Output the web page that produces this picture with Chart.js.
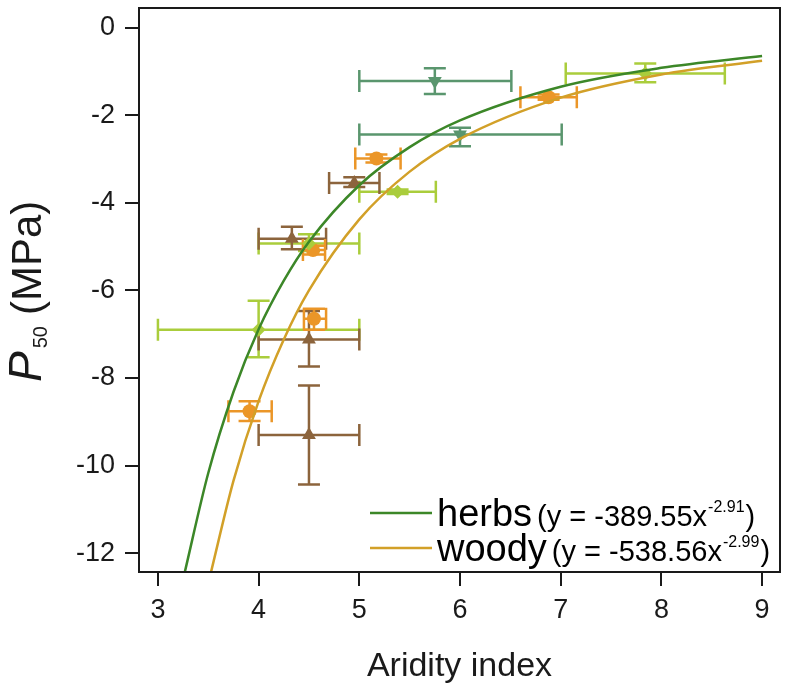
<!DOCTYPE html>
<html>
<head>
<meta charset="utf-8">
<script src="https://cdn.jsdelivr.net/npm/chart.js@4"></script>
<style>
  html, body { margin: 0; padding: 0; background: #fff; }
  #wrap { width: 788px; height: 697px; }
</style>
</head>
<body>
<div id="wrap"><canvas id="p50Chart" width="788" height="697"></canvas></div>
<script>
// 軸刻度
const xTicks = [3, 4, 5, 6, 7, 8, 9];
const yTicks = [0, -2, -4, -6, -8, -10, -12];

// 擬合曲線
const herbsX = [3.26, 3.5, 3.75, 4, 4.25, 4.5, 5, 5.5, 6, 7, 8, 9];
const herbsY = [-12.50, -10.17, -8.32, -6.89, -5.78, -4.89, -3.60, -2.73, -2.12, -1.35, -0.92, -0.65];
const woodyX = [3.52, 3.75, 4, 4.25, 4.5, 5, 5.5, 6, 7, 8, 9];
const woodyY = [-12.50, -10.35, -8.53, -7.12, -6.00, -4.38, -3.29, -2.54, -1.60, -1.07, -0.76];

// 灰綠 倒三角
const greyX = [5.75, 6.0];
const greyY = [-1.22, -2.44];
const greyXLo = [5.0, 5.0];
const greyXHi = [6.51, 7.01];
const greyYLo = [-1.52, -2.71];
const greyYHi = [-0.93, -2.29];

// 橘色 圓點
const orangeX = [5.17, 6.88, 4.54, 4.55, 3.91];
const orangeY = [-2.99, -1.59, -5.08, -6.65, -8.76];
const orangeXLo = [4.96, 6.60, 4.44, 4.45, 3.70];
const orangeXHi = [5.41, 7.16, 4.66, 4.67, 4.13];
const orangeYLo = [-3.08, -1.65, -5.18, -6.90, -8.98];
const orangeYHi = [-2.90, -1.53, -4.98, -6.42, -8.53];

// 棕色 正三角
const brownX = [4.95, 4.33, 4.5, 4.5];
const brownY = [-3.55, -4.82, -7.12, -9.30];
const brownXLo = [4.70, 4.0, 4.0, 4.0];
const brownXHi = [5.20, 4.67, 5.0, 5.0];
const brownYLo = [-3.64, -5.06, -7.74, -10.43];
const brownYHi = [-3.42, -4.55, -6.47, -8.17];

// 淺綠 菱形
const limeX = [5.38, 7.84, 4.5, 4.0];
const limeY = [-3.75, -1.05, -4.93, -6.90];
const limeXLo = [5.0, 7.05, 4.0, 3.0];
const limeXHi = [5.76, 8.63, 5.0, 5.0];
const limeYLo = [-3.80, -1.25, -5.10, -7.53];
const limeYHi = [-3.70, -0.82, -4.72, -6.24];

const cGrey = '#5a966e', cOrange = '#eb9628', cBrown = '#8c643c', cLime = '#aacd3c';
const cHerbs = '#3c8728', cWoody = '#d2a028';
const ink = '#1a1a1a';
const font = "'Liberation Sans', Arial, sans-serif";

const toXY = (xs, ys) => xs.map((v, i) => ({ x: v, y: ys[i] }));

const groups = [
  { x: greyX, y: greyY, xLo: greyXLo, xHi: greyXHi, yLo: greyYLo, yHi: greyYHi, color: cGrey },
  { x: limeX, y: limeY, xLo: limeXLo, xHi: limeXHi, yLo: limeYLo, yHi: limeYHi, color: cLime },
  { x: brownX, y: brownY, xLo: brownXLo, xHi: brownXHi, yLo: brownYLo, yHi: brownYHi, color: cBrown },
  { x: orangeX, y: orangeY, xLo: orangeXLo, xHi: orangeXHi, yLo: orangeYLo, yHi: orangeYHi, color: cOrange }
];

// 誤差線
const errorBars = {
  id: 'errorBars',
  beforeDatasetsDraw(chart) {
    const { ctx, scales: { x, y } } = chart;
    const cap = 11;
    ctx.save();
    ctx.lineWidth = 2.5;
    groups.forEach(g => {
      ctx.strokeStyle = g.color;
      for (let i = 0; i < g.x.length; i++) {
        const px = x.getPixelForValue(g.x[i]), py = y.getPixelForValue(g.y[i]);
        const x0 = x.getPixelForValue(g.xLo[i]), x1 = x.getPixelForValue(g.xHi[i]);
        const y0 = y.getPixelForValue(g.yLo[i]), y1 = y.getPixelForValue(g.yHi[i]);
        ctx.beginPath();
        ctx.moveTo(x0, py); ctx.lineTo(x1, py);
        ctx.moveTo(x0, py - cap); ctx.lineTo(x0, py + cap);
        ctx.moveTo(x1, py - cap); ctx.lineTo(x1, py + cap);
        ctx.moveTo(px, y0); ctx.lineTo(px, y1);
        ctx.moveTo(px - cap, y0); ctx.lineTo(px + cap, y0);
        ctx.moveTo(px - cap, y1); ctx.lineTo(px + cap, y1);
        ctx.stroke();
      }
    });
    ctx.restore();
  }
};

// 外框、軸標題、圖例
const decor = {
  id: 'decor',
  afterDraw(chart) {
    const { ctx, chartArea: a } = chart;
    ctx.save();
    ctx.strokeStyle = ink;
    ctx.lineWidth = 2;
    ctx.strokeRect(a.left, a.top, a.right - a.left, a.bottom - a.top);

    ctx.fillStyle = ink;
    ctx.textAlign = 'center';
    ctx.textBaseline = 'alphabetic';
    ctx.font = `34px ${font}`;
    ctx.fillText('Aridity index', (a.left + a.right) / 2, 676);

    // y 標題 P50 (MPa)
    ctx.save();
    ctx.translate(41, 382);
    ctx.rotate(-Math.PI / 2);
    ctx.textAlign = 'left';
    ctx.font = `italic 46px ${font}`;
    ctx.fillText('P', 0, 0);
    let w = ctx.measureText('P').width + 3;
    ctx.font = `20px ${font}`;
    ctx.fillText('50', w, 6);
    w += ctx.measureText('50').width + 11;
    ctx.font = `42px ${font}`;
    ctx.fillText('(MPa)', w, 0);
    ctx.restore();

    // 圖例
    const items = [
      { name: 'herbs', eq: '(y = -389.55x', sup: '-2.91', color: cHerbs, y: 513 },
      { name: 'woody', eq: '(y = -538.56x', sup: '-2.99', color: cWoody, y: 548 }
    ];
    items.forEach(it => {
      ctx.strokeStyle = it.color;
      ctx.lineWidth = 2.5;
      ctx.beginPath();
      ctx.moveTo(370, it.y); ctx.lineTo(432, it.y);
      ctx.stroke();
      ctx.fillStyle = '#000';
      ctx.textAlign = 'left';
      let tx = 437;
      const base = it.y + 13;
      ctx.font = `38px ${font}`;
      ctx.fillText(it.name, tx, base);
      tx += ctx.measureText(it.name).width + 5;
      ctx.font = `29px ${font}`;
      ctx.fillText(it.eq, tx, base);
      tx += ctx.measureText(it.eq).width + 1;
      ctx.font = `16px ${font}`;
      ctx.fillText(it.sup, tx, base - 14);
      tx += ctx.measureText(it.sup).width + 1;
      ctx.font = `29px ${font}`;
      ctx.fillText(')', tx, base);
    });
    ctx.restore();
  }
};

new Chart(document.getElementById('p50Chart'), {
  type: 'scatter',
  data: {
    datasets: [
      {
        type: 'line', label: 'herbs', data: toXY(herbsX, herbsY),
        borderColor: cHerbs, borderWidth: 2.5, pointRadius: 0,
        cubicInterpolationMode: 'monotone', clip: 0, order: 0
      },
      {
        type: 'line', label: 'woody', data: toXY(woodyX, woodyY),
        borderColor: cWoody, borderWidth: 2.5, pointRadius: 0,
        cubicInterpolationMode: 'monotone', clip: 0, order: 0
      },
      {
        label: 'grey', data: toXY(greyX, greyY), pointStyle: 'triangle', rotation: 180,
        pointRadius: 8, backgroundColor: cGrey, borderColor: cGrey, borderWidth: 0, order: 1
      },
      {
        label: 'lime', data: toXY(limeX, limeY), pointStyle: 'rectRot',
        pointRadius: 7, backgroundColor: cLime, borderColor: cLime, borderWidth: 0, order: 1
      },
      {
        label: 'brown', data: toXY(brownX, brownY), pointStyle: 'triangle',
        pointRadius: 8, backgroundColor: cBrown, borderColor: cBrown, borderWidth: 0, order: 1
      },
      {
        label: 'orange', data: toXY(orangeX, orangeY), pointStyle: 'circle',
        pointRadius: 7, backgroundColor: cOrange, borderColor: cOrange, borderWidth: 0, order: 1
      }
    ]
  },
  options: {
    responsive: false,
    animation: false,
    layout: { padding: { top: 3, right: 6, left: 0, bottom: 0 } },
    plugins: { legend: { display: false }, tooltip: { enabled: false } },
    scales: {
      x: {
        type: 'linear', min: 2.812, max: 9.178,
        afterBuildTicks: s => { s.ticks = xTicks.map(v => ({ value: v })); },
        afterFit: s => { s.height = 125; s.paddingLeft = 0; s.paddingRight = 0; },
        grid: { drawOnChartArea: false, drawTicks: true, tickLength: 14, color: ink, lineWidth: 2 },
        border: { display: false },
        ticks: { color: ink, font: { family: font, size: 27 }, padding: 8, maxRotation: 0 }
      },
      y: {
        type: 'linear', min: -12.43, max: 0.446,
        afterBuildTicks: s => { s.ticks = yTicks.map(v => ({ value: v })); },
        afterFit: s => { s.width = 139; s.paddingTop = 0; s.paddingBottom = 0; },
        grid: { drawOnChartArea: false, drawTicks: true, tickLength: 14, color: ink, lineWidth: 2 },
        border: { display: false },
        ticks: { color: ink, font: { family: font, size: 27 }, padding: 10 }
      }
    }
  },
  plugins: [errorBars, decor]
});
</script>
</body>
</html>
